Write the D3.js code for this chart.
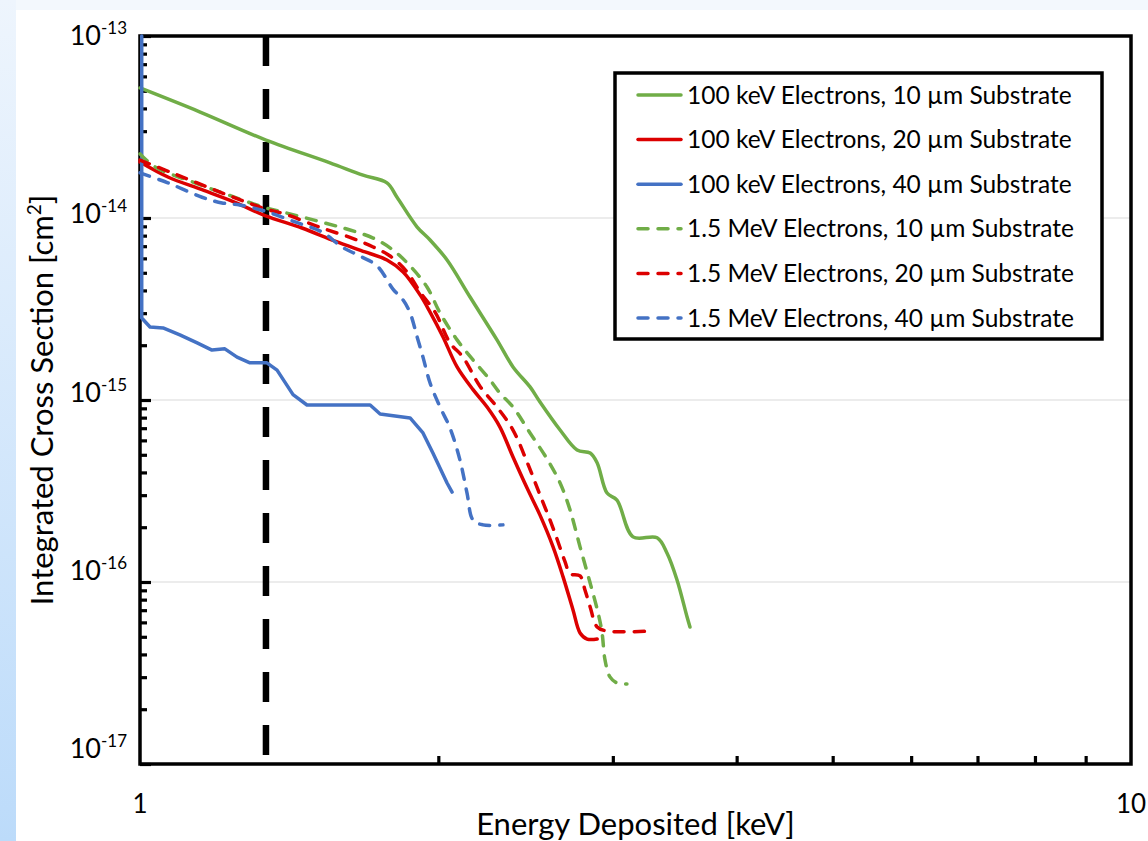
<!DOCTYPE html>
<html>
<head>
<meta charset="utf-8">
<script src="https://cdn.jsdelivr.net/npm/d3@7"></script>
<style>
  html, body { margin: 0; padding: 0; background: #fff; }
  svg { display: block; font-family: Lato, "Open Sans", sans-serif; }
</style>
</head>
<body>
<script>
const width = 1148;   // page width
const height = 841;   // page height
const plot = {left: 140, right: 1131, top: 36, bottom: 764};  // plot frame

// ---- data (energy deposited [keV], integrated cross section [cm^2]) ----
const seriesNames = [
  "100 keV Electrons, 10 \u00b5m Substrate",
  "100 keV Electrons, 20 \u00b5m Substrate",
  "100 keV Electrons, 40 \u00b5m Substrate",
  "1.5 MeV Electrons, 10 \u00b5m Substrate",
  "1.5 MeV Electrons, 20 \u00b5m Substrate",
  "1.5 MeV Electrons, 40 \u00b5m Substrate"
];

const e100k10x = [1.0, 1.150, 1.340, 1.555, 1.679, 1.775, 1.817, 1.904, 1.962, 2.041, 2.153, 2.292, 2.379, 2.475, 2.533, 2.654, 2.761, 2.846, 2.893, 2.960, 3.029, 3.144, 3.325, 3.403, 3.482, 3.565, 3.589];
const e100k10y = [5.18e-14, 3.82e-14, 2.68e-14, 2.01e-14, 1.72e-14, 1.56e-14, 1.30e-14, 8.92e-15, 7.57e-15, 5.88e-15, 3.68e-15, 2.14e-15, 1.52e-15, 1.18e-15, 9.75e-16, 6.84e-16, 5.31e-16, 5.11e-16, 4.51e-16, 3.08e-16, 2.82e-16, 1.77e-16, 1.75e-16, 1.44e-16, 1.03e-16, 6.42e-17, 5.66e-17];

const e100k20x = [1.0, 1.067, 1.155, 1.247, 1.337, 1.457, 1.573, 1.687, 1.775, 1.843, 1.917, 1.962, 2.022, 2.089, 2.168, 2.240, 2.308, 2.379, 2.458, 2.533, 2.611, 2.672, 2.735, 2.780, 2.826, 2.893];
const e100k20y = [2.03e-14, 1.68e-14, 1.43e-14, 1.22e-14, 1.03e-14, 8.81e-15, 7.47e-15, 6.51e-15, 5.88e-15, 5.05e-15, 3.78e-15, 3.04e-15, 2.22e-15, 1.52e-15, 1.14e-15, 9.15e-16, 7.10e-16, 4.86e-16, 3.28e-16, 2.33e-16, 1.56e-16, 1.07e-16, 7.02e-17, 5.25e-17, 4.86e-17, 4.86e-17];

const e100k40x = [1.004, 1.004, 1.0235, 1.055, 1.097, 1.142, 1.182, 1.218, 1.253, 1.291, 1.343, 1.375, 1.427, 1.474, 1.707, 1.747, 1.873, 1.930, 1.975, 2.041, 2.065];
const e100k40y = [1e-13, 2.82e-15, 2.52e-15, 2.49e-15, 2.28e-15, 2.06e-15, 1.88e-15, 1.91e-15, 1.72e-15, 1.60e-15, 1.60e-15, 1.46e-15, 1.07e-15, 9.39e-16, 9.39e-16, 8.38e-16, 7.97e-16, 6.59e-16, 5.11e-16, 3.50e-16, 3.12e-16];

const e15M10x = [1.0, 1.0355, 1.136, 1.227, 1.337, 1.401, 1.537, 1.629, 1.719, 1.800, 1.873, 1.948, 2.008, 2.089, 2.168, 2.255, 2.308, 2.379, 2.475, 2.575, 2.654, 2.716, 2.780, 2.846, 2.899, 2.926, 2.946, 2.980, 3.029, 3.100];
const e15M10y = [2.25e-14, 1.91e-14, 1.56e-14, 1.34e-14, 1.14e-14, 1.07e-14, 9.39e-15, 8.59e-15, 7.76e-15, 6.67e-15, 5.45e-15, 4.18e-15, 3.01e-15, 2.14e-15, 1.66e-15, 1.29e-15, 1.09e-15, 9.15e-16, 6.59e-16, 4.74e-16, 3.50e-16, 2.49e-16, 1.56e-16, 9.87e-17, 6.76e-17, 5.25e-17, 3.73e-17, 3.01e-17, 2.79e-17, 2.75e-17];

const e15M20x = [1.0, 1.072, 1.155, 1.247, 1.340, 1.401, 1.526, 1.636, 1.719, 1.788, 1.860, 1.917, 1.985, 2.055, 2.118, 2.203, 2.292, 2.379, 2.458, 2.533, 2.611, 2.685, 2.716, 2.780, 2.812, 2.846, 2.893, 2.960, 3.294];
const e15M20y = [2.08e-14, 1.79e-14, 1.52e-14, 1.29e-14, 1.12e-14, 1.05e-14, 8.81e-15, 7.76e-15, 6.93e-15, 6.18e-15, 5.05e-15, 3.92e-15, 3.04e-15, 2.06e-15, 1.72e-15, 1.19e-15, 9.15e-16, 6.84e-16, 4.56e-16, 3.01e-16, 1.98e-16, 1.29e-16, 1.11e-16, 1.08e-16, 9.04e-17, 7.29e-17, 5.66e-17, 5.38e-17, 5.38e-17];

const e15M40x = [1.0, 1.067, 1.155, 1.210, 1.261, 1.337, 1.434, 1.526, 1.599, 1.667, 1.735, 1.800, 1.843, 1.873, 1.904, 1.930, 1.962, 2.008, 2.055, 2.103, 2.138, 2.168, 2.219, 2.324];
const e15M40y = [1.77e-14, 1.56e-14, 1.30e-14, 1.21e-14, 1.18e-14, 1.09e-14, 9.51e-15, 8.38e-15, 6.93e-15, 6.18e-15, 5.45e-15, 4.07e-15, 3.54e-15, 3.01e-15, 2.22e-15, 1.72e-15, 1.24e-15, 9.15e-16, 7.02e-16, 4.68e-16, 3.08e-16, 2.19e-16, 2.06e-16, 2.06e-16];

const xLabels = [1, 10];                                   // labelled x ticks
const yLabelExps = [-13, -14, -15, -16, -17];              // labelled y decades
const thresholdEnergy = 1.34;                              // dashed vertical marker [keV]

// series styles (drawn in this order, later on top)
const seriesX = [e100k10x, e100k20x, e100k40x, e15M10x, e15M20x, e15M40x];
const seriesY = [e100k10y, e100k20y, e100k40y, e15M10y, e15M20y, e15M40y];
const colors = ["#70ad47", "#dc0000", "#4472c4", "#70ad47", "#dc0000", "#4472c4"];
const dashed = [false, false, false, true, true, true];
const series = seriesNames.map((name, i) => ({
  name, color: colors[i], dashed: dashed[i],
  values: seriesX[i].map((v, j) => ({e: v, s: seriesY[i][j]}))
}));

// ---- scales ----
const x = d3.scaleLog().domain([1, 10]).range([plot.left, plot.right]);
const y = d3.scaleLog().domain([1e-17, 1e-13]).range([plot.bottom, plot.top]);
// the decade labels sit on a slightly tighter spacing than the ticks in the original
const yLab = d3.scaleLog().domain([1e-17, 1e-13]).range([758, 45]);

const svg = d3.select("body").append("svg")
  .attr("width", width).attr("height", height);

// ---- page background (light blue slide edge) ----
const defs = svg.append("defs");
const grad = defs.append("linearGradient").attr("id", "edge")
  .attr("x1", 0).attr("y1", 0).attr("x2", 0).attr("y2", 1);
grad.append("stop").attr("offset", "0%").attr("stop-color", "#eef5fd");
grad.append("stop").attr("offset", "100%").attr("stop-color", "#bcdbfa");
defs.append("clipPath").attr("id", "clip").append("rect")
  .attr("x", plot.left - 3).attr("y", plot.top - 2)
  .attr("width", plot.right - plot.left + 3).attr("height", plot.bottom - plot.top + 2);

svg.append("rect").attr("width", width).attr("height", height).attr("fill", "#fff");
svg.append("rect").attr("width", width).attr("height", 10).attr("fill", "#f3f8fd");
svg.append("rect").attr("width", 16).attr("height", height).attr("fill", "url(#edge)");

// ---- gridlines ----
svg.append("g")
  .selectAll("line")
  .data([1e-16, 1e-15, 1e-14])
  .join("line")
  .attr("x1", plot.left).attr("x2", plot.right)
  .attr("y1", d => y(d)).attr("y2", d => y(d))
  .attr("stroke", "#d9d9d9").attr("stroke-width", 1.2);

// ---- axes: inside ticks only, labels added separately ----
const allY = y.ticks();
const majorY = allY.filter(d => Math.abs(Math.log10(d) - Math.round(Math.log10(d))) < 1e-9);
const minorY = allY.filter(d => !majorY.includes(d));

const tickStyle = g => g
  .call(g => g.select(".domain").remove())
  .call(g => g.selectAll(".tick line").attr("stroke", "#000").attr("stroke-width", 3.2))
  .call(g => g.selectAll(".tick text").remove());

svg.append("g")
  .attr("transform", `translate(${plot.left},0)`)
  .call(d3.axisLeft(y).tickValues(minorY).tickSize(-7).tickFormat(""))
  .call(tickStyle);
svg.append("g")
  .attr("transform", `translate(${plot.left},0)`)
  .call(d3.axisLeft(y).tickValues(majorY).tickSize(-11).tickFormat(""))
  .call(tickStyle);
svg.append("g")
  .attr("transform", `translate(0,${plot.bottom})`)
  .call(d3.axisBottom(x).tickValues(x.ticks().filter(d => d > 1 && d < 10)).tickSize(-8).tickFormat(""))
  .call(tickStyle);

// plot frame
svg.append("rect")
  .attr("x", plot.left).attr("y", plot.top)
  .attr("width", plot.right - plot.left).attr("height", plot.bottom - plot.top)
  .attr("fill", "none").attr("stroke", "#000").attr("stroke-width", 3.5);

// x tick labels
svg.append("g")
  .selectAll("text")
  .data(xLabels)
  .join("text")
  .attr("x", d => x(d)).attr("y", 813)
  .attr("text-anchor", "middle")
  .attr("font-size", 26).attr("fill", "#000")
  .text(d => d);

// y tick labels 10^n
const yl = svg.append("g")
  .selectAll("text")
  .data(yLabelExps)
  .join("text")
  .attr("x", 127).attr("y", d => yLab(Math.pow(10, d)))
  .attr("text-anchor", "end")
  .attr("font-size", 27).attr("fill", "#000");
yl.append("tspan").text("10");
yl.append("tspan").attr("dy", -11).attr("font-size", 17).text(d => d);

// axis titles
svg.append("text")
  .attr("x", (plot.left + plot.right) / 2).attr("y", 835)
  .attr("text-anchor", "middle").attr("font-size", 31).attr("fill", "#000")
  .text("Energy Deposited [keV]");
const yt = svg.append("text")
  .attr("transform", `translate(53,${(plot.top + plot.bottom) / 2}) rotate(-90)`)
  .attr("text-anchor", "middle").attr("font-size", 31).attr("fill", "#000");
yt.append("tspan").text("Integrated Cross Section [cm");
yt.append("tspan").attr("dy", -12).attr("font-size", 19).text("2");
yt.append("tspan").attr("dy", 12).text("]");

// threshold marker
svg.append("line")
  .attr("x1", x(thresholdEnergy)).attr("x2", x(thresholdEnergy))
  .attr("y1", plot.top).attr("y2", plot.bottom)
  .attr("stroke", "#000").attr("stroke-width", 6.5)
  .attr("stroke-dasharray", "30,23");

// ---- curves ----
// smooth lines, except where a series has a vertical drop (repeated energy) -> straight segments
const smooth = d3.line().x(d => x(d.e)).y(d => y(d.s)).curve(d3.curveCatmullRom.alpha(0.5));
const straight = d3.line().x(d => x(d.e)).y(d => y(d.s));
const hasDrop = v => v.some((d, i) => i > 0 && d.e === v[i - 1].e);

svg.append("g")
  .attr("clip-path", "url(#clip)")
  .selectAll("path")
  .data(series)
  .join("path")
  .attr("fill", "none")
  .attr("stroke", d => d.color)
  .attr("stroke-width", 3.5)
  .attr("stroke-linejoin", "round")
  .attr("stroke-linecap", "round")
  .attr("stroke-dasharray", d => d.dashed ? "10,10" : null)
  .attr("d", d => (hasDrop(d.values) ? straight : smooth)(d.values));

// ---- legend ----
const legend = svg.append("g");
legend.append("rect")
  .attr("x", 615).attr("y", 73).attr("width", 487).attr("height", 266)
  .attr("fill", "#fff").attr("stroke", "#000").attr("stroke-width", 3.5);
const item = legend.selectAll("g.item")
  .data(series)
  .join("g")
  .attr("class", "item")
  .attr("transform", (d, i) => `translate(0,${95 + i * 44.6})`);
item.append("line")
  .attr("x1", 638).attr("x2", 681)
  .attr("stroke", d => d.color).attr("stroke-width", 3.5)
  .attr("stroke-linecap", "round")
  .attr("stroke-dasharray", d => d.dashed ? "10,10" : null);
item.append("text")
  .attr("x", 687).attr("y", 8.5)
  .attr("font-size", 24.5).attr("fill", "#000")
  .text(d => d.name);
</script>
</body>
</html>
